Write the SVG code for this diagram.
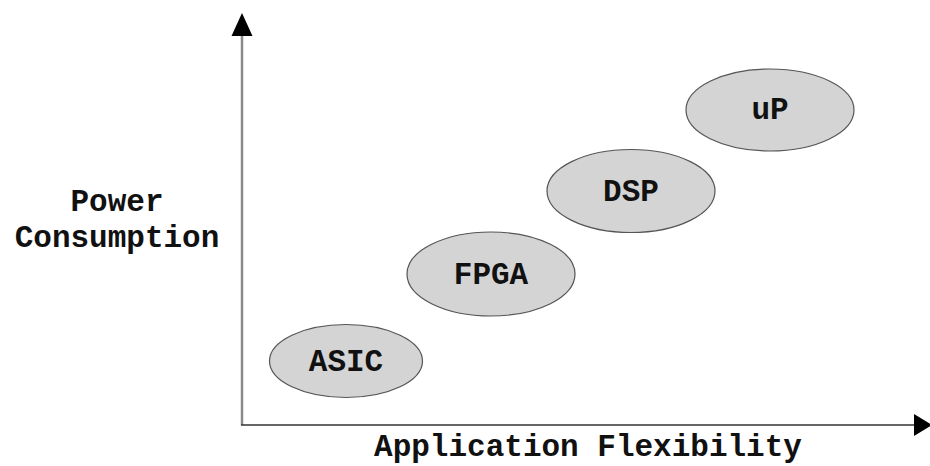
<svg xmlns="http://www.w3.org/2000/svg" width="930" height="466" viewBox="0 0 930 466">
<style>
.node ellipse{fill:#d4d4d4;stroke:#555;stroke-width:1.2}
text{font-family:"Liberation Mono","Courier New",monospace;font-weight:bold;font-size:31px;fill:#111;text-anchor:middle}
</style>
<rect width="930" height="466" fill="#fff"/>
<g id="connectors">
<line x1="242" y1="425" x2="242" y2="32" stroke="#8a8a8a" stroke-width="2.5"/>
<polygon points="242,13 231.5,36 252.5,36" fill="#000"/>
<line x1="241" y1="425" x2="917" y2="425" stroke="#333" stroke-width="1.5"/>
<polygon points="932,425 914,414 914,436" fill="#000"/>
</g>
<g id="axis-y-label">
<text x="117" y="211">Power</text>
<text x="117" y="247">Consumption</text>
</g>
<g id="axis-x-label"><text x="588" y="456">Application Flexibility</text></g>
<g id="asic" class="node"><ellipse cx="346" cy="361" rx="76.5" ry="36.5"/><text x="346" y="371">ASIC</text></g>
<g id="fpga" class="node"><ellipse cx="491" cy="274" rx="84" ry="42"/><text x="491" y="284">FPGA</text></g>
<g id="dsp" class="node"><ellipse cx="631" cy="191" rx="84" ry="41.5"/><text x="631" y="201">DSP</text></g>
<g id="up" class="node"><ellipse cx="770" cy="110" rx="84" ry="41"/><text x="770" y="119">uP</text></g>
</svg>
